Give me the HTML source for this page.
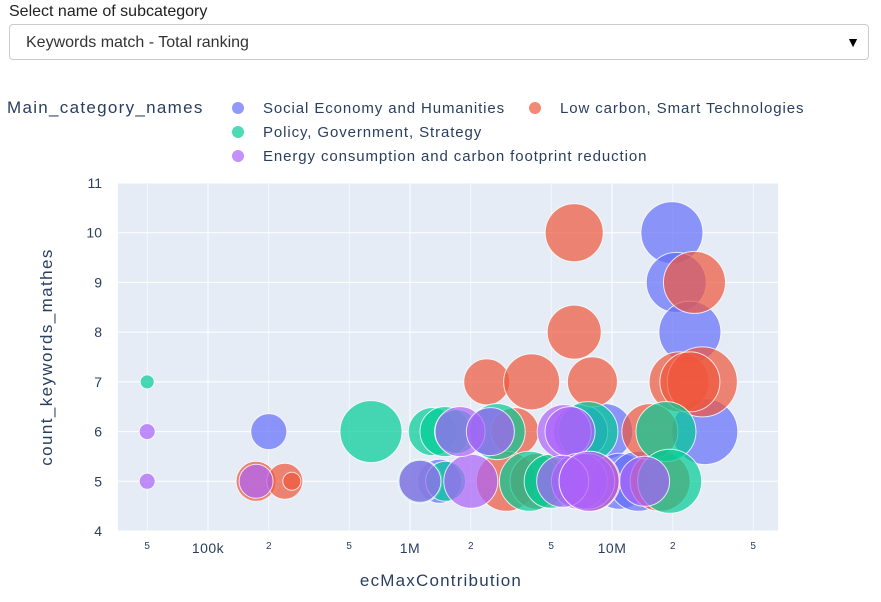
<!DOCTYPE html>
<html><head><meta charset="utf-8"><style>
body{margin:0;width:881px;height:602px;background:#fff;font-family:"Liberation Sans",sans-serif;overflow:hidden;position:relative}
.lbl{position:absolute;left:9px;top:3px;font-size:16px;color:#222}
.dd{position:absolute;left:9px;top:24px;width:860px;height:36px;border:1px solid #ccc;border-radius:4px;box-sizing:border-box}
.dd span{position:absolute;left:16px;top:9px;font-size:16px;color:#333}
.dd b{position:absolute;right:8px;top:9px;font-size:14px;color:#000}
</style></head><body>
<div class="lbl">Select name of subcategory</div>
<div class="dd"><span>Keywords match - Total ranking</span><b>▼</b></div>
<svg id="chart" width="881" height="602" style="position:absolute;left:0;top:0"></svg>
<script>
const categories=["Social Economy and Humanities","Low carbon, Smart Technologies","Policy, Government, Strategy","Energy consumption and carbon footprint reduction"];
const colors=["#636efa","#EF553B","#00cc96","#ab63fa"];
const socialX=[200000,2500000,9200000,10900000,19800000,20800000,24300000,28800000,13500000,1400000,7000000];
const socialY=[6,6,6,5,10,9,8,6,5,5,6];
const socialS=[18,25,28,28,31,30,31,33,30,22,27];
const lowX=[173000,240000,260000,2400000,4000000,6500000,6500000,8000000,3300000,3000000,7800000,17300000,21500000,28000000,25600000,24300000,15400000,4300000];
const lowY=[5,5,5,7,7,10,8,7,6,5,5,5,7,7,9,7,6,5];
const lowS=[20,18,9,23,28,29,27,25,24,30,30,30,30,35,31,30,28,28];
const polX=[50000,641000,1120000,1290000,1490000,1700000,2700000,7600000,3900000,5000000,18500000,19300000,1500000];
const polY=[7,6,5,6,6,6,6,6,5,5,6,5,5];
const polS=[7,31,22,24,25,22,28,30,30,27,30,32,20];
const enX=[50000,50000,173000,1120000,2000000,1770000,2500000,5800000,6200000,6900000,7500000,5700000,14500000,7700000];
const enY=[6,5,5,5,5,6,6,6,6,5,5,5,5,5];
const enS=[8,8,17,21,27,25,24,27,25,28,28,26,25,30];
const series=[[socialX,socialY,socialS],[lowX,lowY,lowS],[polX,polY,polS],[enX,enY,enS]];
const yTicks=[4,5,6,7,8,9,10,11];
const xMajor=[[1e5,"100k"],[1e6,"1M"],[1e7,"10M"]];
const xMinor=[[5e4,"5"],[2e5,"2"],[5e5,"5"],[2e6,"2"],[5e6,"5"],[2e7,"2"],[5e7,"5"]];
const L=118,R=778,T=183,B=531;
const xs=v=>208+(Math.log10(v)-5)*202;
const ys=v=>T+(11-v)*(B-T)/7;
const NS="http://www.w3.org/2000/svg",svg=document.getElementById("chart");
function mk(t,a,p){const e=document.createElementNS(NS,t);for(const k in a)e.setAttribute(k,a[k]);(p||svg).appendChild(e);return e;}
const bg=mk("rect",{x:L,y:T,width:R-L,height:B-T,fill:"#e5ecf6"});


for(const v of yTicks){const y=ys(v);
 const g=mk("line",{x1:L,x2:R,y1:y,y2:y,stroke:"#fff","stroke-width":1});
 
 
 const t=mk("text",{x:L-16,y:y+5,"text-anchor":"end","font-size":14,fill:"#2a3f5f"});t.textContent=v;
 
 }
for(const [v,s] of xMajor.concat(xMinor)){const x=xs(v);const major=s.length>1;
 const g=mk("line",{x1:x,x2:x,y1:T,y2:B,stroke:"#fff","stroke-width":major?1:0.6});
 
 
 const t=mk("text",{x:x,y:major?553:549,"text-anchor":"middle","font-size":major?14:10,fill:"#2a3f5f","letter-spacing":major?0.5:0});t.textContent=s;
 
 }
series.forEach((s,i)=>{const [X,Y,S]=s;for(let j=0;j<X.length;j++){
 const c=mk("circle",{cx:xs(X[j]),cy:ys(Y[j]),r:S[j],fill:colors[i],"fill-opacity":0.7,stroke:"#fff","stroke-opacity":0.8,"stroke-width":1});
 
 }});
const yt=mk("text",{x:0,y:0,transform:"translate(52,357) rotate(-90)","text-anchor":"middle","font-size":17,fill:"#2a3f5f","letter-spacing":1.4});yt.textContent="count_keywords_mathes";


const xt=mk("text",{x:441,y:586,"text-anchor":"middle","font-size":17,fill:"#2a3f5f","letter-spacing":1.2});xt.textContent="ecMaxContribution";


const lt=mk("text",{x:7,y:113,"font-size":17,fill:"#2a3f5f","letter-spacing":1.3});lt.textContent="Main_category_names";


const pos=[[238,108],[535,108],[238,132],[238,156]];
categories.forEach((c,i)=>{const [x,y]=pos[i];
 const d=mk("circle",{cx:x,cy:y,r:6,fill:colors[i],"fill-opacity":0.7});
 
 
 const t=mk("text",{x:x+25,y:y+5,"font-size":15,fill:"#2a3f5f","letter-spacing":0.9});t.textContent=c;
 
 });
</script>
</body></html>
